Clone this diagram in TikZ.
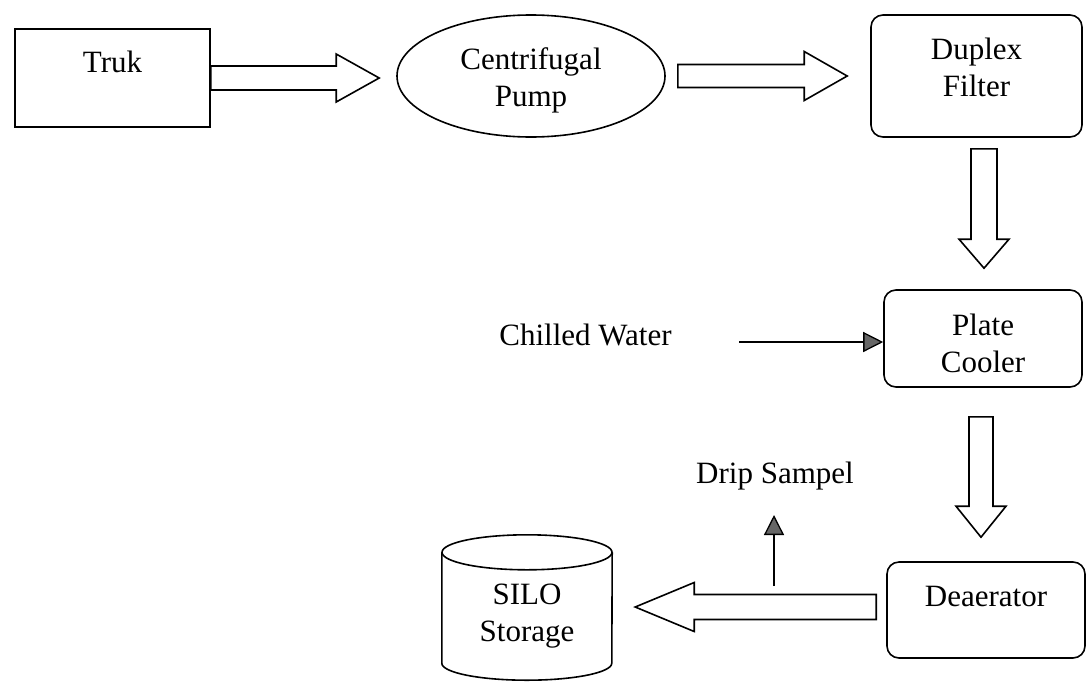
\documentclass[tikz,border=0pt]{standalone}
\usepackage{fontspec}
\setmainfont{Liberation Serif}
\usetikzlibrary{calc,shapes.geometric,arrows.meta}

% hollow block arrow, horizontal: start, tip, half shaft, half head, head length (signed)
\newcommand\hblock[5]{%
  \draw[blk] let \p1=#1, \p2=#2 in
    ({\x1},{\y1+#3}) -- ({\x2-(#5)},{\y1+#3}) -- ({\x2-(#5)},{\y1+#4}) -- ({\x2},{\y1})
    -- ({\x2-(#5)},{\y1-#4}) -- ({\x2-(#5)},{\y1-#3}) -- ({\x1},{\y1-#3}) -- cycle;}
% hollow block arrow pointing down: start, tip, half shaft, half head, head length
\newcommand\vblock[5]{%
  \draw[blk] let \p1=#1, \p2=#2 in
    ({\x1+#3},{\y1}) -- ({\x1+#3},{\y2+#5}) -- ({\x1+#4},{\y2+#5}) -- ({\x1},{\y2})
    -- ({\x1-#4},{\y2+#5}) -- ({\x1-#3},{\y2+#5}) -- ({\x1-#3},{\y1}) -- cycle;}

\begin{document}
\begin{tikzpicture}[x=1pt,y=-1pt,
  txt/.style={font=\fontsize{31}{37}\selectfont, align=center, inner sep=0pt},
  shp/.style={draw, line width=1.6pt, inner sep=0pt},
  plainbox/.style={shp, rectangle},
  roundbox/.style={shp, rectangle, rounded corners=12pt},
  blk/.style={draw, line width=1.6pt, line join=miter, fill=white},
  feed/.style={line width=1.3pt, -{Triangle[length=20pt,width=20pt,fill=black!60]}},
  ln/.style={line width=1.6pt}]

\useasboundingbox (0,0) rectangle (1089,686);

% process units
\node[plainbox, minimum width=195pt, minimum height=98pt,
      label={[txt,yshift=16.5pt]center:Truk}] (truk) at (112.5,78) {};
\node[shp, ellipse, minimum width=268pt, minimum height=122pt,
      label={[txt,yshift=-4.4pt]center:{Centrifugal\\Pump}}] (pump) at (531,76) {};
\node[roundbox, minimum width=211pt, minimum height=122pt,
      label={[txt,yshift=9pt]center:{Duplex\\Filter}}] (duplex) at (976.5,76) {};
\node[roundbox, minimum width=198pt, minimum height=97pt,
      label={[txt,yshift=-4.5pt]center:{Plate\\Cooler}}] (plate) at (983,338.5) {};
\node[roundbox, minimum width=198pt, minimum height=96pt,
      label={[txt,yshift=13.3pt]center:Deaerator}] (deaer) at (986,610) {};

% storage silo (cylinder)
\node[inner sep=0pt, minimum width=170pt, minimum height=145pt,
      label={[txt,yshift=-9pt]center:{SILO\\Storage}}] (silo) at (527,607.5) {};
\draw[ln] ([yshift=-17.5pt]silo.north) ellipse [x radius=85pt, y radius=17.5pt];
\draw[ln] ([yshift=-17.5pt]silo.north west) -- ([yshift=17pt]silo.south west)
  arc[start angle=180, end angle=360, x radius=85pt, y radius=17pt]
  -- ([yshift=-17.5pt]silo.north east);

% side streams
\node[txt, anchor=base] (chilled) at (585.5,345) {Chilled Water};
\node[txt, anchor=base] (drip) at (775,483) {Drip Sampel};
\coordinate (cwstart) at (739,342);
\coordinate (dripfoot) at (774,586);
\coordinate (driptip) at (774,515);

% main flow
\hblock{(truk.east)}{([xshift=-17pt]pump.west)}{12pt}{24pt}{43pt}
\hblock{([xshift=12pt]pump.east)}{([xshift=-23pt]duplex.west)}{11.5pt}{24.5pt}{43pt}
\vblock{([xshift=7.5pt,yshift=-11pt]duplex.south)}{([yshift=21pt]plate.north)}{13pt}{25pt}{29pt}
\vblock{([xshift=-2pt,yshift=-29pt]plate.south)}{([yshift=24pt]deaer.north)}{12pt}{25pt}{31pt}
\hblock{([xshift=-10pt,yshift=3pt]deaer.west)}{([xshift=23pt]silo.east)}{12.5pt}{24.5pt}{-59pt}

% chilled water feed and sample draw-off
\draw[feed] (cwstart) -- (cwstart -| plate.west);
\draw[feed] (dripfoot) -- (driptip);

\end{tikzpicture}
\end{document}
